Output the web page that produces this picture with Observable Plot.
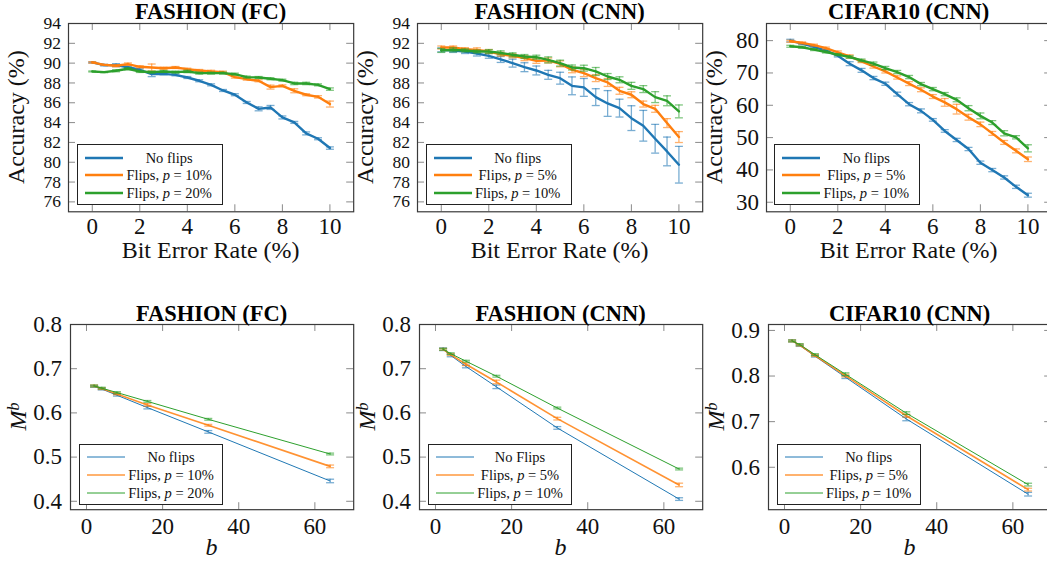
<!DOCTYPE html>
<html>
<head>
<meta charset="utf-8">
<script src="https://cdn.jsdelivr.net/npm/d3@7"></script>
<script src="https://cdn.jsdelivr.net/npm/@observablehq/plot@0.6"></script>
<style>
  html, body { margin: 0; padding: 0; background: #fff; overflow: hidden; }
  #root { position: relative; width: 1047px; height: 565px; overflow: hidden; background: #fff; }
</style>
</head>
<body>
<div id="root"></div>
<script>
// ---------------- DATA ----------------
const berX = [0, 0.5, 1, 1.5, 2, 2.5, 3, 3.5, 4, 4.5, 5, 5.5, 6, 6.5, 7, 7.5, 8, 8.5, 9, 9.5, 10];
const bits = [2, 4, 8, 16, 32, 64];

const seriesColors = ["#1f77b4", "#ff7f0e", "#2ca02c"];

const panelTitles = ["FASHION (FC)", "FASHION (CNN)", "CIFAR10 (CNN)"];

const legendFC = ["No flips", "Flips, p = 10%", "Flips, p = 20%"];
const legendCNN = ["No flips", "Flips, p = 5%", "Flips, p = 10%"];
const legendCNNb = ["No Flips", "Flips, p = 5%", "Flips, p = 10%"];

const berTicks = [0, 2, 4, 6, 8, 10];
const accTicksFashion = [76, 78, 80, 82, 84, 86, 88, 90, 92, 94];
const accTicksCifar = [30, 40, 50, 60, 70, 80];
const bitTicks = [0, 20, 40, 60];
const mbTicksFashion = [0.4, 0.5, 0.6, 0.7, 0.8];
const mbTicksCifar = [0.6, 0.7, 0.8, 0.9];

// FASHION (FC) accuracy
const fcNo    = [90.07, 89.80, 89.80, 89.59, 89.33, 88.89, 88.92, 88.82, 88.55, 88.22, 87.81, 87.24, 86.81, 86.03, 85.39, 85.53, 84.52, 84.02, 82.91, 82.37, 81.43];
const fcNoErr = [0.05, 0.08, 0.15, 0.10, 0.10, 0.25, 0.10, 0.10, 0.10, 0.10, 0.10, 0.10, 0.10, 0.10, 0.20, 0.20, 0.15, 0.10, 0.15, 0.10, 0.12];
const fcP10    = [90.07, 89.83, 89.73, 89.90, 89.63, 89.56, 89.49, 89.56, 89.39, 89.26, 89.16, 89.09, 88.59, 88.38, 88.22, 87.58, 87.71, 87.21, 86.81, 86.60, 85.87];
const fcP10Err = [0.08, 0.05, 0.10, 0.12, 0.10, 0.35, 0.10, 0.10, 0.10, 0.10, 0.12, 0.10, 0.10, 0.10, 0.10, 0.20, 0.10, 0.20, 0.10, 0.12, 0.30];
const fcP20    = [89.16, 89.09, 89.23, 89.43, 89.16, 89.09, 89.16, 89.09, 89.16, 88.99, 88.99, 88.99, 88.89, 88.59, 88.55, 88.42, 88.28, 87.95, 87.95, 87.81, 87.38];
const fcP20Err = [0.05, 0.05, 0.10, 0.10, 0.10, 0.10, 0.10, 0.10, 0.12, 0.10, 0.10, 0.10, 0.10, 0.10, 0.10, 0.10, 0.10, 0.12, 0.12, 0.10, 0.12];

// FASHION (CNN) accuracy
const cnnNo    = [91.34, 91.28, 91.17, 90.97, 90.74, 90.37, 90.00, 89.59, 89.26, 88.82, 88.48, 87.71, 87.55, 86.57, 85.93, 85.46, 84.45, 83.68, 82.37, 81.09, 79.75];
const cnnNoErr = [0.20, 0.20, 0.20, 0.25, 0.25, 0.30, 0.40, 0.45, 0.45, 0.45, 0.60, 0.90, 0.90, 0.85, 1.30, 0.90, 1.25, 1.55, 1.45, 1.45, 1.85];
const cnnP5    = [91.58, 91.58, 91.41, 91.34, 91.17, 90.90, 90.74, 90.50, 90.23, 90.27, 89.93, 89.33, 88.99, 88.49, 88.05, 87.21, 86.81, 85.87, 85.39, 83.95, 82.54];
const cnnP5Err = [0.15, 0.15, 0.15, 0.20, 0.20, 0.20, 0.20, 0.25, 0.25, 0.25, 0.30, 0.30, 0.35, 0.35, 0.40, 0.35, 0.30, 0.30, 0.35, 0.45, 0.55];
const cnnP10    = [91.28, 91.34, 91.28, 91.17, 91.17, 91.04, 90.84, 90.67, 90.60, 90.33, 90.00, 89.56, 89.49, 89.16, 88.65, 88.32, 87.71, 87.38, 86.57, 86.20, 85.13];
const cnnP10Err = [0.20, 0.20, 0.15, 0.15, 0.20, 0.20, 0.20, 0.20, 0.20, 0.30, 0.30, 0.25, 0.30, 0.40, 0.30, 0.30, 0.35, 0.35, 0.55, 0.50, 0.65];

// CIFAR10 (CNN) accuracy
const cifNo    = [80.01, 79.08, 78.04, 76.90, 75.35, 72.87, 70.80, 68.42, 66.66, 63.45, 60.34, 58.27, 55.48, 52.06, 49.27, 46.47, 42.23, 39.95, 37.67, 34.77, 32.18];
const cifNoErr = [0.40, 0.30, 0.30, 0.30, 0.40, 0.60, 0.60, 0.50, 0.50, 0.60, 0.50, 0.60, 0.40, 0.40, 0.50, 0.50, 0.50, 0.50, 0.50, 0.50, 0.60];
const cifP5    = [79.80, 79.30, 78.60, 77.70, 76.40, 75.10, 73.60, 72.00, 70.50, 68.60, 66.70, 64.80, 62.70, 60.90, 58.80, 56.30, 54.10, 51.30, 48.50, 45.90, 43.30];
const cifP5Err = [0.30, 0.30, 0.30, 0.30, 0.40, 0.50, 0.40, 0.50, 0.50, 0.50, 0.60, 0.60, 0.60, 1.20, 1.50, 0.90, 0.70, 0.60, 0.60, 0.60, 0.70];
const cifP10    = [78.25, 77.94, 77.22, 76.49, 75.66, 74.94, 73.90, 72.87, 71.52, 70.28, 68.73, 66.55, 65.00, 63.45, 61.69, 59.10, 56.72, 54.65, 51.34, 50.10, 46.68];
const cifP10Err = [0.30, 0.30, 0.30, 0.30, 0.30, 0.40, 0.40, 0.50, 0.50, 0.50, 0.50, 0.50, 0.50, 0.50, 0.60, 0.80, 0.90, 0.60, 0.80, 0.50, 1.10];

// M^b vs b
const mbFcNo     = [0.660, 0.654, 0.640, 0.612, 0.557, 0.446];
const mbFcNoErr  = [0.002, 0.002, 0.002, 0.003, 0.003, 0.004];
const mbFcP10    = [0.661, 0.655, 0.643, 0.618, 0.572, 0.479];
const mbFcP10Err = [0.002, 0.002, 0.002, 0.003, 0.002, 0.003];
const mbFcP20    = [0.661, 0.656, 0.646, 0.626, 0.5855, 0.507];
const mbFcP20Err = [0.002, 0.002, 0.002, 0.002, 0.002, 0.002];

const mbCnnNo     = [0.744, 0.730, 0.705, 0.659, 0.566, 0.405];
const mbCnnNoErr  = [0.003, 0.003, 0.003, 0.004, 0.003, 0.003];
const mbCnnP5     = [0.744, 0.732, 0.710, 0.670, 0.587, 0.437];
const mbCnnP5Err  = [0.002, 0.002, 0.003, 0.004, 0.003, 0.004];
const mbCnnP10    = [0.744, 0.734, 0.717, 0.683, 0.611, 0.473];
const mbCnnP10Err = [0.002, 0.002, 0.002, 0.002, 0.002, 0.002];

const mbCifNo     = [0.877, 0.867, 0.8437, 0.7976, 0.706, 0.541];
const mbCifNoErr  = [0.002, 0.002, 0.002, 0.003, 0.004, 0.004];
const mbCifP5     = [0.877, 0.868, 0.845, 0.801, 0.713, 0.551];
const mbCifP5Err  = [0.002, 0.002, 0.002, 0.003, 0.003, 0.003];
const mbCifP10    = [0.877, 0.869, 0.847, 0.804, 0.7186, 0.562];
const mbCifP10Err = [0.002, 0.002, 0.002, 0.003, 0.003, 0.003];

// ---------------- DRAWING ----------------
const root = document.getElementById("root");
const FONT = "'Liberation Serif', 'DejaVu Serif', serif";
const capSymbol = {
  draw(ctx, size) {
    const r = Math.sqrt(size / Math.PI);
    ctx.moveTo(-r, 0);
    ctx.lineTo(r, 0);
  }
};

function makePanel(cfg) {
  const mL = 80, mR = 10, mT = 34, mB = 62;
  const { left, top, w, h } = cfg;
  const rows = cfg.series.flatMap(s => cfg.xs.map((x, i) => ({ x, y: s.values[i], e: s.err[i], name: s.name })));

  const marks = [
    Plot.axisX({ ticks: cfg.xTicks, tickSize: 0, tickPadding: cfg.xPad, label: null, fill: "#111", fontSize: 23 }),
    Plot.axisY({ ticks: cfg.yTicks, tickSize: 0, tickPadding: cfg.yPad, label: null, tickFormat: cfg.yFmt, fill: "#111", fontSize: cfg.yFont }),
    Plot.tickX(cfg.xTicks, { x: d => d, insetTop: h - 7, stroke: "#8a8a8a" }),
    Plot.tickX(cfg.xTicks, { x: d => d, insetBottom: h - 7, stroke: "#8a8a8a" }),
    Plot.tickY(cfg.yTicks, { y: d => d, insetRight: w - 7, stroke: "#8a8a8a" }),
    Plot.tickY(cfg.yTicks, { y: d => d, insetLeft: w - 7, stroke: "#8a8a8a" })
  ];
  cfg.series.forEach(s => {
    const d = rows.filter(r => r.name === s.name);
    const eb = { stroke: s.color, strokeOpacity: 0.6, strokeWidth: 1.3 };
    marks.push(Plot.ruleX(d, { x: "x", y1: r => r.y - r.e, y2: r => r.y + r.e, ...eb }));
    marks.push(Plot.dot(d, { x: "x", y: r => r.y - r.e, symbol: capSymbol, r: cfg.capR, fill: "none", ...eb }));
    marks.push(Plot.dot(d, { x: "x", y: r => r.y + r.e, symbol: capSymbol, r: cfg.capR, fill: "none", ...eb }));
    marks.push(Plot.line(d, { x: "x", y: "y", stroke: s.color, strokeWidth: s.lw, strokeOpacity: s.op ?? 1 }));
  });
  marks.push(Plot.frame({ stroke: "#3a3a3a", strokeWidth: 1.2 }));

  const svg = Plot.plot({
    width: mL + w + mR,
    height: mT + h + mB,
    marginLeft: mL, marginRight: mR, marginTop: mT, marginBottom: mB,
    x: { domain: cfg.xDomain },
    y: { domain: cfg.yDomain },
    style: { background: "none", fontFamily: FONT, fontSize: "23px", overflow: "visible", maxWidth: "none" },
    marks
  });
  svg.style.position = "absolute";
  svg.style.left = (left - mL) + "px";
  svg.style.top = (top - mT) + "px";

  const s = d3.select(svg);
  // title
  s.append("text")
    .attr("x", mL + w / 2).attr("y", mT - cfg.titleGap)
    .attr("text-anchor", "middle").attr("font-weight", "bold")
    .attr("font-size", 22.5).attr("font-family", FONT).attr("fill", "#000")
    .text(cfg.title);
  // x label
  const xl = s.append("text")
    .attr("x", mL + w / 2).attr("y", mT + h + cfg.xLabelGap)
    .attr("text-anchor", "middle").attr("font-size", 24).attr("font-family", FONT).attr("fill", "#111");
  if (cfg.xLabelItalic) xl.attr("font-style", "italic");
  xl.text(cfg.xLabel);
  // y label
  const yl = s.append("text")
    .attr("transform", `translate(${mL - cfg.yLabelGap},${mT + h / 2}) rotate(-90)`)
    .attr("text-anchor", "middle").attr("font-size", 24).attr("font-family", FONT).attr("fill", "#111");
  if (cfg.yLabelSup) {
    yl.append("tspan").attr("font-style", "italic").text(cfg.yLabel);
    yl.append("tspan").attr("font-style", "italic").attr("font-size", 16).attr("dy", "-0.45em").text(cfg.yLabelSup);
  } else {
    yl.text(cfg.yLabel);
  }
  root.appendChild(svg);

  // legend
  const lg = cfg.legend;
  const box = document.createElement("div");
  box.style.cssText = `position:absolute;left:${left + lg.dx}px;top:${top + h - lg.dy - lg.h}px;width:${lg.w}px;height:${lg.h}px;` +
    `border:1px solid #222;background:#fff;box-sizing:border-box;font-family:${FONT};font-size:14.5px;color:#111;`;
  const rowCenters = [12.5, 30, 48];
  cfg.series.forEach((se, k) => {
    const row = document.createElement("div");
    row.style.cssText = `position:absolute;left:0;top:${rowCenters[k] - 9}px;width:100%;height:18px;`;
    const label = lg.labels[k].replace(" p ", " <i>p</i> ");
    row.innerHTML =
      `<svg width="40" height="18" style="position:absolute;left:7px;top:0"><line x1="0" x2="38" y1="9" y2="9" stroke="${se.color}" stroke-width="${lg.lw[k]}" stroke-opacity="${lg.op[k]}"/></svg>` +
      `<span style="position:absolute;left:45px;width:92px;top:0;line-height:18px;text-align:center;white-space:nowrap">${label}</span>`;
    box.appendChild(row);
  });
  root.appendChild(box);
}

const topLefts = [68.4, 416.9, 765.5];
const botLefts = [70.3, 419.3, 768.0];
const accSeries = [
  [[fcNo, fcNoErr], [fcP10, fcP10Err], [fcP20, fcP20Err]],
  [[cnnNo, cnnNoErr], [cnnP5, cnnP5Err], [cnnP10, cnnP10Err]],
  [[cifNo, cifNoErr], [cifP5, cifP5Err], [cifP10, cifP10Err]]
];
const mbSeries = [
  [[mbFcNo, mbFcNoErr], [mbFcP10, mbFcP10Err], [mbFcP20, mbFcP20Err]],
  [[mbCnnNo, mbCnnNoErr], [mbCnnP5, mbCnnP5Err], [mbCnnP10, mbCnnP10Err]],
  [[mbCifNo, mbCifNoErr], [mbCifP5, mbCifP5Err], [mbCifP10, mbCifP10Err]]
];
const topLegends = [legendFC, legendCNN, legendCNN];
const botLegends = [legendFC, legendCNNb, legendCNN];
const accDomains = [[75, 94], [75, 94], [27.05, 85.3]];
const accTicks = [accTicksFashion, accTicksFashion, accTicksCifar];
const accTickFont = [17.5, 17.5, 23];
const mbDomains = [[0.381, 0.8], [0.381, 0.8], [0.507, 0.913]];
const mbTicks = [mbTicksFashion, mbTicksFashion, mbTicksCifar];

for (let p = 0; p < 3; p++) {
  makePanel({
    left: topLefts[p], top: 23.3, w: 285.2, h: 188.3,
    xs: berX, xDomain: [-1, 11], yDomain: accDomains[p],
    xTicks: berTicks, yTicks: accTicks[p], yFmt: d => String(d), yFont: accTickFont[p],
    xPad: 6, yPad: 7.5, capR: 4,
    series: accSeries[p].map(([v, e], k) => ({ name: topLegends[p][k], values: v, err: e, color: seriesColors[k], lw: 2.4 })),
    title: panelTitles[p], titleGap: 3.5,
    xLabel: "Bit Error Rate (%)", xLabelGap: 46.7,
    yLabel: "Accuracy (%)", yLabelGap: 44.5,
    legend: { dx: 8.8, dy: 6.5, w: 146, h: 61, labels: topLegends[p], lw: [2.4, 2.4, 2.4], op: [1, 1, 1] }
  });
  makePanel({
    left: botLefts[p], top: 324.1, w: 283.2, h: 185.2,
    xs: bits, xDomain: [-4.2, 70.2], yDomain: mbDomains[p],
    xTicks: bitTicks, yTicks: mbTicks[p], yFmt: d3.format(".1f"), yFont: 23,
    xPad: 7.5, yPad: 8.5, capR: 4,
    series: mbSeries[p].map(([v, e], k) => ({ name: botLegends[p][k], values: v, err: e, color: seriesColors[k], lw: k === 1 ? 1.6 : 1, op: k === 1 ? 0.85 : 1 })),
    title: panelTitles[p], titleGap: 3,
    xLabel: "b", xLabelItalic: true, xLabelGap: 45.7,
    yLabel: "M", yLabelSup: "b", yLabelGap: 44,
    legend: { dx: 8.7, dy: 4.3, w: 144, h: 61.5, labels: botLegends[p], lw: [1, 2.2, 1], op: [1, 0.6, 1] }
  });
}
</script>
</body>
</html>
